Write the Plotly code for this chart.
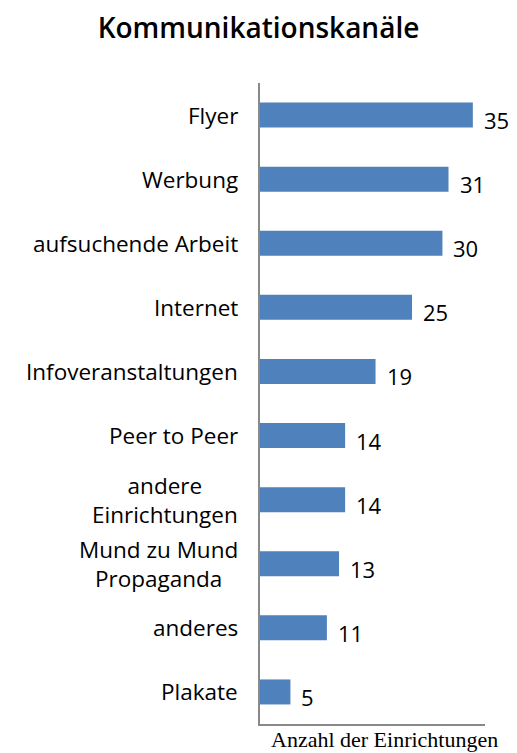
import plotly.graph_objects as go

categories = ["Flyer", "Werbung", "aufsuchende Arbeit", "Internet", "Infoveranstaltungen",
              "Peer to Peer", "andere<br>Einrichtungen", "Mund zu Mund<br>Propaganda",
              "anderes", "Plakate"]
values = [35, 31, 30, 25, 19, 14, 14, 13, 11, 5]

FONT = "Open Sans"
BAR = "#4F81BD"

fig = go.Figure(go.Bar(
    x=values, y=categories, orientation="h",
    marker=dict(color=BAR, line=dict(width=0)),
    hoverinfo="skip",
))

annotations = []
for c, v in zip(categories, values):
    annotations.append(dict(x=v, y=c, xref="x", yref="y", text=str(v), showarrow=False,
                            xanchor="left", xshift=9, yshift=-5,
                            font=dict(family=FONT, size=22, color="#000")))
    annotations.append(dict(x=0, y=c, xref="paper", yref="y", text=c, showarrow=False,
                            xanchor="right", xshift=-20, align="center",
                            font=dict(family=FONT, size=22.5, color="#000")))
annotations.append(dict(x=(500 - 260) / (517 - 260 - 32), y=-(739 - (753 - 29)) / (753 - 83 - 29),
                        xref="paper", yref="paper", text="Anzahl der Einrichtungen",
                        showarrow=False, xanchor="right", yanchor="middle",
                        font=dict(family="Liberation Serif", size=22, color="#000")))

fig.update_layout(
    width=517, height=753,
    margin=dict(l=260, r=32, t=83, b=29),
    paper_bgcolor="white", plot_bgcolor="white",
    bargap=0.61,
    showlegend=False,
    title=dict(text="Kommunikationskanäle", x=0.5, xref="container", xanchor="center",
               y=0.963, yanchor="middle",
               font=dict(family=FONT, size=28, color="#000", weight=600)),
    xaxis=dict(range=[0, 37], showgrid=False, zeroline=False, showticklabels=False, ticks="",
               showline=True, linecolor="#898989", linewidth=2, fixedrange=True),
    yaxis=dict(autorange="reversed", showgrid=False, zeroline=False, showticklabels=False,
               ticks="", showline=True, linecolor="#898989", linewidth=2, fixedrange=True),
    annotations=annotations,
)

fig.write_html("out.html", config={"displayModeBar": False},
               post_script="document.body.style.margin='0';document.body.style.overflow='hidden';")
